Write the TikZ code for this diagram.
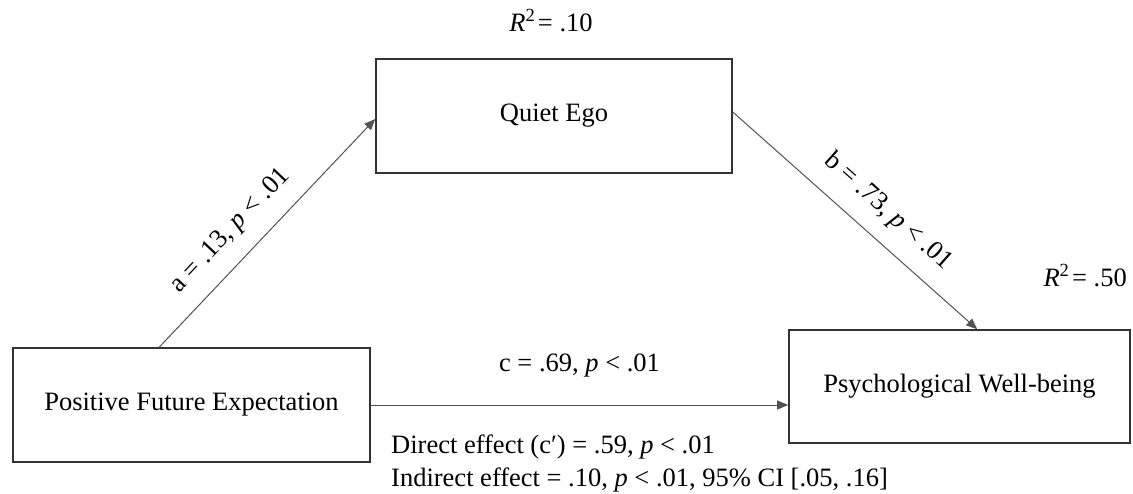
\documentclass[tikz,border=0pt]{standalone}
\usepackage{fontspec}
\setmainfont{Liberation Serif}
\usetikzlibrary{arrows.meta}
\begin{document}
\begin{tikzpicture}[x=1pt,y=-1pt,
  every node/.style={font=\fontsize{26.5}{32}\selectfont, text=black},
  varbox/.style={draw=black!80, line width=1.6pt, inner sep=0pt, fill=white},
  conn/.style={draw=black!68, line width=1pt, -{Triangle[length=11pt,width=9pt]}},
  coef/.style={sloped, above=16pt, inner sep=0pt},
  note/.style={inner sep=0pt}
]
\useasboundingbox (0,0) rectangle (1133,493);
\node[varbox, minimum width=357pt, minimum height=114pt] (pfe) at (191.5,405) {Positive Future Expectation};
\node[varbox, minimum width=356pt, minimum height=114pt] (qe) at (554,116) {Quiet Ego};
\node[varbox, minimum width=341pt, minimum height=113pt] (pwb) at (959.5,386.5) {Psychological Well-being};

\draw[conn] ([xshift=147pt]pfe.north west) -- node[coef, pos=0.425] {a = .13, \textit{p} < .01} ([yshift=-3pt]qe.west);
\draw[conn] ([yshift=4pt]qe.east) -- node[coef, pos=0.558] {b = .73, \textit{p} < .01} ([xshift=189pt]pwb.north west);
\draw[conn] (pfe.east) -- node[above=27pt, inner sep=0pt] (clab) {c = .69, \textit{p} < .01} (pwb.west |- pfe.east);

\node[note, anchor=base west] (direct) at (391,453) {Direct effect (c′) = .59, \textit{p} < .01};
\node[note, anchor=base west] (indirect) at (391,486) {Indirect effect = .10, \textit{p} < .01, 95\% CI [.05, .16]};
\node[note, anchor=base] (r2q) at (551,31) {\textit{R}\textsuperscript{2}\hspace{0.1em}= .10};
\node[note, anchor=base east] (r2p) at (1127,286) {\textit{R}\textsuperscript{2}\hspace{0.1em}= .50};
\end{tikzpicture}
\end{document}
